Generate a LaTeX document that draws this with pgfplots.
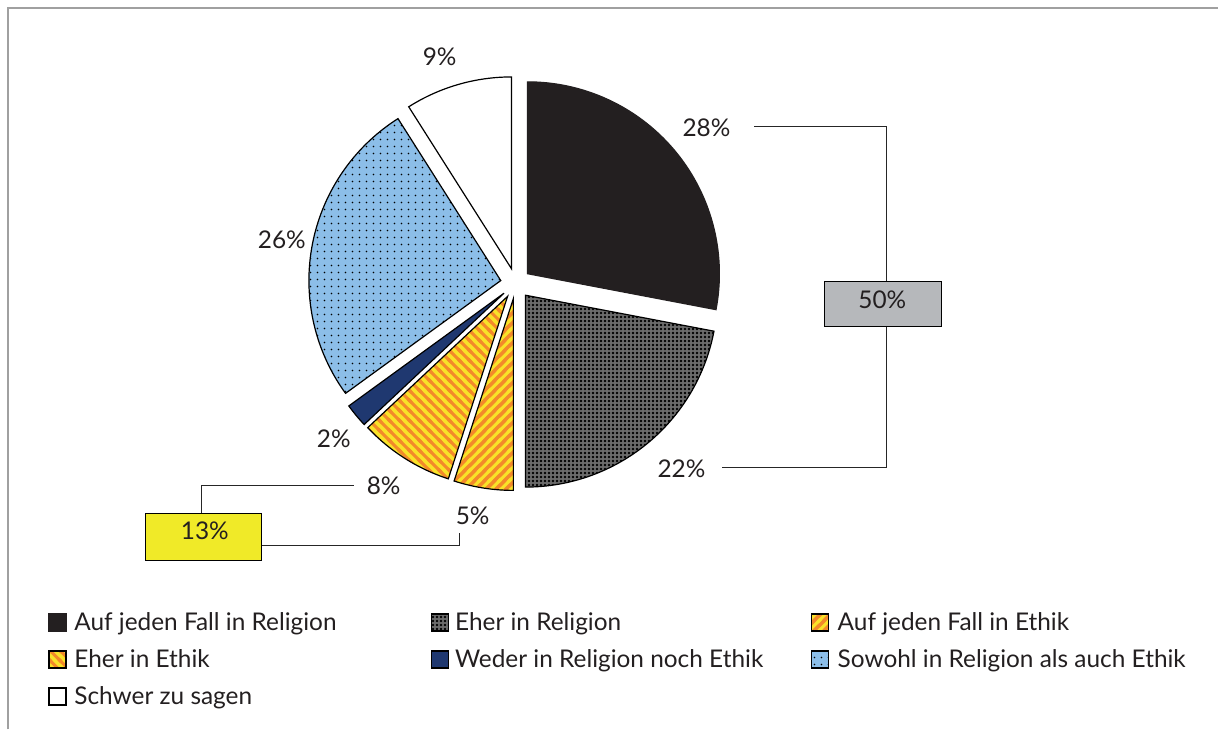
\documentclass[border=0pt]{standalone}
\usepackage{pgfplots}
\pgfplotsset{compat=1.18}
\usepackage{pgfplotstable}
\usepackage{fontspec}
\setmainfont{Lato}
\usetikzlibrary{patterns,calc}

\definecolor{cblack}{RGB}{35,31,32}
\definecolor{cgray}{RGB}{108,108,108}
\definecolor{corange}{RGB}{243,137,42}
\definecolor{cyellow}{RGB}{249,226,40}
\definecolor{cnavy}{RGB}{31,56,112}
\definecolor{cblue}{RGB}{140,190,232}
\definecolor{cbox}{RGB}{182,184,187}
\definecolor{cboxy}{RGB}{240,234,40}
\definecolor{cframe}{RGB}{160,160,160}

\pgfdeclarepatternformonly{stripesNE}{\pgfqpoint{-1pt}{-1pt}}{\pgfqpoint{6pt}{6pt}}{\pgfqpoint{5pt}{5pt}}{%
  \pgfsetlinewidth{1.5pt}%
  \pgfpathmoveto{\pgfqpoint{-1pt}{-1pt}}\pgfpathlineto{\pgfqpoint{6pt}{6pt}}%
  \pgfpathmoveto{\pgfqpoint{-1pt}{4pt}}\pgfpathlineto{\pgfqpoint{1pt}{6pt}}%
  \pgfpathmoveto{\pgfqpoint{4pt}{-1pt}}\pgfpathlineto{\pgfqpoint{6pt}{1pt}}%
  \pgfusepath{stroke}}
\pgfdeclarepatternformonly{stripesNW}{\pgfqpoint{-1pt}{-1pt}}{\pgfqpoint{6pt}{6pt}}{\pgfqpoint{5pt}{5pt}}{%
  \pgfsetlinewidth{1.5pt}%
  \pgfpathmoveto{\pgfqpoint{-1pt}{6pt}}\pgfpathlineto{\pgfqpoint{6pt}{-1pt}}%
  \pgfpathmoveto{\pgfqpoint{-1pt}{1pt}}\pgfpathlineto{\pgfqpoint{1pt}{-1pt}}%
  \pgfpathmoveto{\pgfqpoint{4pt}{6pt}}\pgfpathlineto{\pgfqpoint{6pt}{4pt}}%
  \pgfusepath{stroke}}
\pgfdeclarepatternformonly{graydots}{\pgfqpoint{0pt}{0pt}}{\pgfqpoint{2pt}{2pt}}{\pgfqpoint{2pt}{2pt}}{%
  \pgfpathcircle{\pgfqpoint{1pt}{1pt}}{0.72pt}\pgfusepath{fill}}
\pgfdeclarepatternformonly{bluedots}{\pgfqpoint{0pt}{0pt}}{\pgfqpoint{3.5pt}{3.5pt}}{\pgfqpoint{3.5pt}{3.5pt}}{%
  \pgfpathcircle{\pgfqpoint{1.75pt}{1.75pt}}{0.38pt}\pgfusepath{fill}}

\tikzset{
  s0/.style={fill=cblack, draw=cblack, line width=0.6pt},
  s1/.style={fill=cgray, postaction={pattern color=black, pattern=graydots}, postaction={draw=black, line width=0.6pt}},
  s2/.style={fill=corange, postaction={pattern color=cyellow, pattern=stripesNE}, postaction={draw=black, line width=0.6pt}},
  s3/.style={fill=cyellow, postaction={pattern color=corange, pattern=stripesNW}, postaction={draw=black, line width=0.6pt}},
  s4/.style={fill=cnavy, draw=black, line width=0.6pt},
  s5/.style={fill=cblue, postaction={pattern color=black, pattern=bluedots}, postaction={draw=black, line width=0.6pt}},
  s6/.style={fill=white, draw=black, line width=0.6pt},
  lab/.style={font=\fontsize{12.2}{15}\selectfont, text=cblack, inner sep=0pt},
  conn/.style={draw=black!85, line width=0.6pt},
}

% share of each answer (%), and label position (px coordinates, y from bottom)
\pgfplotstableread{
share lx ly
28 707 602
22 682 261
5  473 214
8  384 244
2  334 291
26 282 490
9  440 673
}\piedata

\newcommand\pieslice[2]{%
  \path[#2] ($(axis cs:516.2,446.3)+(\csname bi#1\endcsname:7.65pt)$) -- ++(\csname st#1\endcsname:96pt)
    arc[start angle=\csname st#1\endcsname, end angle=\csname en#1\endcsname, radius=96pt] -- cycle;}
\newcommand\pielabel[1]{%
  \node[lab] at (axis cs:\csname lx#1\endcsname,\csname ly#1\endcsname) {\csname val#1\endcsname\%};}
\newcommand\legsq[3]{%
  \path[#3] (axis cs:#1-8.5,#2-8.5) rectangle (axis cs:#1+8.5,#2+8.5);}
\newcommand\legtxt[3]{%
  \node[lab, anchor=base west] at (axis cs:#1,#2) {#3};}

\begin{document}
\begin{tikzpicture}
\gdef\cumul{0}%
\foreach \i in {0,...,6}{%
  \pgfplotstablegetelem{\i}{share}\of\piedata
  \let\myv\pgfplotsretval
  \pgfmathsetmacro\myA{90-3.6*\cumul}%
  \pgfmathsetmacro\myB{90-3.6*(\cumul+\myv)}%
  \pgfmathsetmacro\myC{(\myA+\myB)/2}%
  \expandafter\xdef\csname st\i\endcsname{\myA}%
  \expandafter\xdef\csname en\i\endcsname{\myB}%
  \expandafter\xdef\csname bi\i\endcsname{\myC}%
  \expandafter\xdef\csname val\i\endcsname{\myv}%
  \pgfplotstablegetelem{\i}{lx}\of\piedata
  \expandafter\xdef\csname lx\i\endcsname{\pgfplotsretval}%
  \pgfplotstablegetelem{\i}{ly}\of\piedata
  \expandafter\xdef\csname ly\i\endcsname{\pgfplotsretval}%
  \pgfmathsetmacro\myN{\cumul+\myv}%
  \xdef\cumul{\myN}%
}
\begin{axis}[hide axis, scale only axis, width=609.5pt, height=365pt,
  xmin=0, xmax=1219, ymin=0, ymax=730, clip=false]
\addplot[draw=none] coordinates {(0,0) (1219,730)};
% frame
\draw[cframe, line width=1pt] (axis cs:8,0) -- (axis cs:8,722) -- (axis cs:1219,722);
% slices
\pieslice{0}{s0}
\pieslice{1}{s1}
\pieslice{2}{s2}
\pieslice{3}{s3}
\pieslice{4}{s4}
\pieslice{5}{s5}
\pieslice{6}{s6}
% labels
\pielabel{0}\pielabel{1}\pielabel{2}\pielabel{3}\pielabel{4}\pielabel{5}\pielabel{6}
% 50% bracket
\draw[conn] (axis cs:755,603) -- (axis cs:887,603) -- (axis cs:887,262) -- (axis cs:723,262);
\draw[fill=cbox, draw=black, line width=0.6pt] (axis cs:825,403) rectangle (axis cs:942,448);
\node[lab] at (axis cs:883,430) {50\%};
% 13% bracket
\draw[conn] (axis cs:354,244) -- (axis cs:202,244) -- (axis cs:202,216);
\draw[conn] (axis cs:262,184) -- (axis cs:460,184) -- (axis cs:460,197);
\draw[fill=cboxy, draw=black, line width=0.6pt] (axis cs:146,169) rectangle (axis cs:262,216);
\node[lab] at (axis cs:205,199) {13\%};
% legend
\legsq{57.5}{107}{s0}\legtxt{74}{99}{Auf jeden Fall in Religion}
\legsq{440}{107}{s1}\legtxt{455}{99}{Eher in Religion}
\legsq{821}{107}{s2}\legtxt{838}{99}{Auf jeden Fall in Ethik}
\legsq{57.5}{70}{s3}\legtxt{74}{62}{Eher in Ethik}
\legsq{440}{70}{s4}\legtxt{455}{62}{Weder in Religion noch Ethik}
\legsq{821}{70}{s5}\legtxt{838}{62}{Sowohl in Religion als auch Ethik}
\legsq{57.5}{33}{s6}\legtxt{74}{25}{Schwer zu sagen}
\end{axis}
\end{tikzpicture}
\end{document}
